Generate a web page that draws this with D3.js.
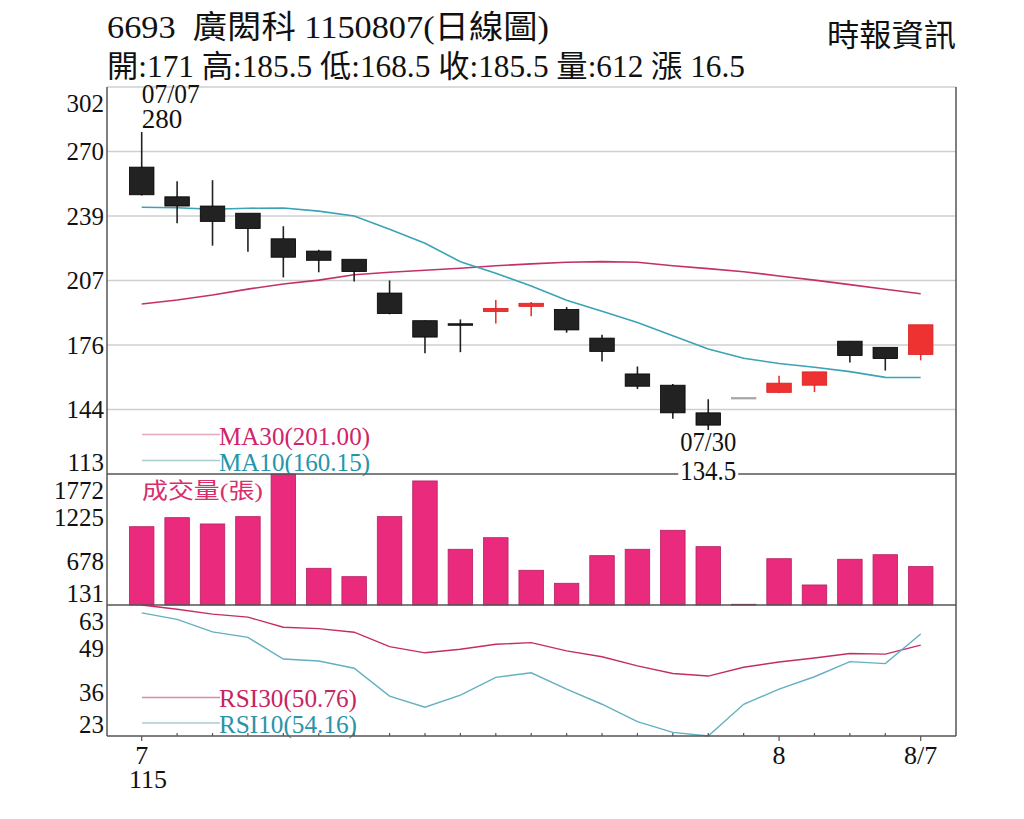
<!DOCTYPE html>
<html>
<head>
<meta charset="utf-8">
<script src="https://cdn.jsdelivr.net/npm/d3@7/dist/d3.min.js"></script>
<style>
  html, body { margin: 0; padding: 0; background: #fff; }
  svg { display: block; }
  text { font-family: "Liberation Serif", "Noto Sans CJK TC", serif; }
</style>
</head>
<body>
<div id="chart"></div>
<script>
// trading days shown (one session skipped in the source chart)
const dates = ['07/07', '07/08', '07/09', '07/10', '07/13', '07/14', '07/15', '07/16', '07/17', '07/20',
    '07/21', '07/22', '07/23', '07/24', '07/27', '07/28', '07/30', '07/31', '08/03', '08/04',
    '08/05', '08/06', '08/07'];

const openP = [262.5, 248, 243.5, 240, 227.5, 221.5, 217.5, 201, 187.5, 186, 192, 194.5, 193, 179, 161.5, 156, 142.5, 150, 152.5, 156, 177.5, 174.5, 171];
const highP = [280, 256, 256.5, 240, 234, 222.5, 217.5, 207.5, 188, 188.5, 198, 197, 194.5, 181, 165.5, 157, 149.5, 150, 161, 163, 178, 174.5, 185.5];
const lowP = [249, 235.5, 224.5, 221.5, 209, 211.5, 207, 191, 172, 172.5, 186.5, 190, 182, 168, 154.5, 140, 134.5, 150, 152.5, 153, 167.5, 163.5, 168.5];
const closeP = [249, 243.5, 236, 232.5, 218.5, 217, 211.5, 191, 179.5, 185.5, 193.5, 196, 183, 172.5, 155.5, 142.5, 136.5, 150, 157, 162.5, 170.5, 169, 185.5];

const volume = [1112, 1225, 1146, 1238, 1800, 591, 486, 1238, 1685, 829, 974, 566, 403, 749, 829, 1067, 862, 140, 711, 382, 704, 761, 612];

const ma30 = [196, 198, 200.4, 203.3, 205.8, 207.7, 210.3, 211.5, 212.5, 213.5, 214.7, 215.6, 216.4, 216.7, 216.4, 214.7, 213.3, 211.8, 209.7, 207.7, 205.5, 203.2, 201];
const ma10 = [243.3, 243, 242.3, 242.8, 242.9, 241.4, 239, 232.5, 225.7, 216.7, 211, 204.8, 197.8, 192.5, 187, 180.5, 174, 169.5, 167, 165.1, 163, 160.2, 160.15];

const rsi30 = [63, 61.7, 60.2, 59.3, 56.2, 55.8, 54.7, 50.3, 48.4, 49.5, 51, 51.5, 49, 47.2, 44.4, 42.1, 41.3, 44, 45.6, 46.8, 48.2, 48, 50.76];
const rsi10 = [60.6, 58.6, 54.8, 53.1, 46.5, 45.9, 43.7, 35.2, 31.8, 35.5, 40.9, 42.3, 37.3, 32.7, 27.4, 24.1, 22.8, 32.7, 37.3, 41.1, 45.7, 45.1, 54.16];

const priceTicks = [113, 144.5, 176, 207.5, 239, 270.5, 302];
const priceTickLabels = ['113', '144', '176', '207', '239', '270', '302'];
const volTicks = [131, 678, 1225, 1772];
const rsiTicks = [23, 36.33, 49.67, 63];
const rsiTickLabels = ['23', '36', '49', '63'];
const xLabels = [{ date: '07/07', text: '7' }, { date: '08/03', text: '8' }, { date: '08/07', text: '8/7' }];

const width = 1024, height = 819;
const left = 107, right = 956;
const panes = {
    price: { top: 87, bottom: 474 },
    vol: { top: 474, bottom: 605 },
    rsi: { top: 605, bottom: 736 }
};
const bodyW = 24.5;

const svg = d3.select('#chart').append('svg')
    .attr('width', width)
    .attr('height', height)
    .attr('viewBox', `0 0 ${width} ${height}`);

svg.append('rect').attr('width', width).attr('height', height).attr('fill', '#fff');

const x = d3.scalePoint()
    .domain(dates)
    .range([141.7, 920.7]);

const yPrice = d3.scaleLinear().domain([113, 302]).range([panes.price.bottom, panes.price.top]);
const yVol = d3.scaleLinear().domain([131, 1772]).range([panes.vol.bottom, panes.vol.top]).clamp(true);
const yRsi = d3.scaleLinear().domain([23, 63]).range([panes.rsi.bottom, panes.rsi.top]).clamp(true);

const candles = dates.map((d, i) => ({
    date: d, open: openP[i], high: highP[i], low: lowP[i], close: closeP[i], vol: volume[i]
}));

// Header
svg.append('text')
    .attr('x', 107).attr('y', 38)
    .attr('font-size', 32)
    .attr('textLength', 442).attr('lengthAdjust', 'spacingAndGlyphs')
    .attr('fill', '#111')
    .text('6693\u00a0\u00a0廣閎科 1150807(日線圖)');

svg.append('text')
    .attr('x', 107).attr('y', 77)
    .attr('font-size', 31)
    .attr('textLength', 638).attr('lengthAdjust', 'spacingAndGlyphs')
    .attr('fill', '#111')
    .text('開:171 高:185.5 低:168.5 收:185.5 量:612 漲 16.5');

svg.append('text')
    .attr('x', 827).attr('y', 46)
    .attr('font-size', 31)
    .attr('textLength', 129).attr('lengthAdjust', 'spacingAndGlyphs')
    .attr('fill', '#111')
    .text('時報資訊');

// Grid lines in the price pane
svg.append('g')
    .selectAll('line')
    .data(priceTicks.filter(v => v > 113))
    .join('line')
    .attr('x1', left).attr('x2', right)
    .attr('y1', d => yPrice(d)).attr('y2', d => yPrice(d))
    .attr('stroke', '#cfcfcf')
    .attr('stroke-width', 1.5);

// Y labels, clamped inside each pane
function yLabels(values, labels, scale, pane) {
    svg.append('g')
        .selectAll('text')
        .data(values)
        .join('text')
        .attr('x', 104)
        .attr('y', d => Math.max(pane.top + 16, Math.min(pane.bottom - 12, scale(d))))
        .attr('text-anchor', 'end')
        .attr('dominant-baseline', 'central')
        .attr('font-size', 25)
        .attr('fill', '#111')
        .text((d, i) => labels[i]);
}
yLabels(priceTicks, priceTickLabels, yPrice, panes.price);
yLabels(volTicks, volTicks.map(String), yVol, panes.vol);
yLabels(rsiTicks, rsiTickLabels, yRsi, panes.rsi);

// Moving averages
const line = (scale) => d3.line()
    .x((d, i) => x(dates[i]))
    .y(d => scale(d));

svg.append('path').datum(ma30)
    .attr('d', line(yPrice))
    .attr('fill', 'none').attr('stroke', '#c4306a').attr('stroke-width', 1.6);
svg.append('path').datum(ma10)
    .attr('d', line(yPrice))
    .attr('fill', 'none').attr('stroke', '#3aa3b8').attr('stroke-width', 1.6);

// Candles
function candleColor(d) {
    if (d.open === d.close && d.high === d.low) return '#a8a8a8';
    return d.close > d.open ? '#ee3232' : '#222';
}

const cg = svg.append('g')
    .selectAll('g')
    .data(candles)
    .join('g');

cg.append('line')
    .attr('x1', d => x(d.date)).attr('x2', d => x(d.date))
    .attr('y1', d => yPrice(d.high)).attr('y2', d => yPrice(d.low))
    .attr('stroke', candleColor)
    .attr('stroke-width', 1.6);

cg.append('rect')
    .attr('x', d => x(d.date) - bodyW / 2)
    .attr('width', bodyW)
    .attr('y', d => yPrice(Math.max(d.open, d.close)) - 0.75)
    .attr('height', d => Math.max(1.5, Math.abs(yPrice(d.open) - yPrice(d.close))))
    .attr('fill', candleColor)
    .attr('stroke', d => d.close > d.open ? '#d82020' : (d.open === d.close && d.high === d.low ? '#a8a8a8' : '#000'))
    .attr('stroke-width', 0.8);

// High / low annotations
const hiIdx = d3.maxIndex(highP);
const loIdx = d3.minIndex(lowP);

svg.append('text')
    .attr('x', x(dates[hiIdx])).attr('y', 103)
    .attr('font-size', 27).attr('fill', '#111')
    .attr('textLength', 58).attr('lengthAdjust', 'spacingAndGlyphs')
    .text(dates[hiIdx]);
svg.append('text')
    .attr('x', x(dates[hiIdx])).attr('y', 128)
    .attr('font-size', 27).attr('fill', '#111')
    .text(String(highP[hiIdx]));

// Legends in price pane
function legend(y, textColor, lineColor, label, len) {
    svg.append('line')
        .attr('x1', 142).attr('x2', 220)
        .attr('y1', y).attr('y2', y)
        .attr('stroke', lineColor).attr('stroke-width', 1.5);
    svg.append('text')
        .attr('x', 219).attr('y', y + 10)
        .attr('font-size', 25)
        .attr('fill', textColor)
        .attr('textLength', len).attr('lengthAdjust', 'spacingAndGlyphs')
        .text(label);
}
legend(434.5, '#d2226a', '#e6a8bc', `MA30(${ma30[ma30.length - 1].toFixed(2)})`, 151);
legend(460.5, '#2596aa', '#a8ccd4', `MA10(${ma10[ma10.length - 1].toFixed(2)})`, 151);

// Volume bars
svg.append('g')
    .selectAll('rect')
    .data(candles)
    .join('rect')
    .attr('x', d => x(d.date) - bodyW / 2)
    .attr('width', bodyW)
    .attr('y', d => yVol(d.vol))
    .attr('height', d => panes.vol.bottom - yVol(d.vol))
    .attr('fill', '#ea2a7d')
    .attr('stroke', '#b52060')
    .attr('stroke-width', 0.8);

svg.append('text')
    .attr('x', 142).attr('y', 498)
    .attr('font-size', 22)
    .attr('fill', '#d6306d')
    .attr('textLength', 121).attr('lengthAdjust', 'spacingAndGlyphs')
    .text('成交量(張)');

// RSI lines
svg.append('path').datum(rsi30)
    .attr('d', line(yRsi))
    .attr('fill', 'none').attr('stroke', '#c42d63').attr('stroke-width', 1.4);
svg.append('path').datum(rsi10)
    .attr('d', line(yRsi))
    .attr('fill', 'none').attr('stroke', '#62b0c0').attr('stroke-width', 1.4);

function rsiLegend(y, textColor, lineColor, label) {
    svg.append('line')
        .attr('x1', 142).attr('x2', 220)
        .attr('y1', y).attr('y2', y)
        .attr('stroke', lineColor).attr('stroke-width', 1.5);
    svg.append('text')
        .attr('x', 219).attr('y', y + 9.5)
        .attr('font-size', 25)
        .attr('fill', textColor)
        .attr('textLength', 138).attr('lengthAdjust', 'spacingAndGlyphs')
        .text(label);
}
rsiLegend(697.5, '#c8245f', '#d98aa4', `RSI30(${rsi30[rsi30.length - 1].toFixed(2)})`);
rsiLegend(723, '#2a93a8', '#a8ccd4', `RSI10(${rsi10[rsi10.length - 1].toFixed(2)})`);

// Pane separators and frame
const frame = svg.append('g').attr('stroke', '#555').attr('stroke-width', 1.5);
frame.append('line').attr('x1', left).attr('x2', right).attr('y1', panes.price.bottom).attr('y2', panes.price.bottom);
frame.append('line').attr('x1', left).attr('x2', right).attr('y1', panes.vol.bottom).attr('y2', panes.vol.bottom);
frame.append('line').attr('x1', left).attr('x2', right).attr('y1', panes.rsi.bottom).attr('y2', panes.rsi.bottom);
frame.append('line').attr('x1', left).attr('x2', left).attr('y1', panes.price.top).attr('y2', panes.rsi.bottom);
frame.append('line').attr('x1', right).attr('x2', right).attr('y1', panes.price.top).attr('y2', panes.rsi.bottom);

// Low annotation (drawn over the separator with a white backing)
const lowX = x(dates[loIdx]);
svg.append('rect')
    .attr('x', lowX - 30).attr('y', 460)
    .attr('width', 60).attr('height', 24)
    .attr('fill', '#fff');
svg.append('text')
    .attr('x', lowX).attr('y', 450.5)
    .attr('text-anchor', 'middle')
    .attr('font-size', 27).attr('fill', '#111')
    .attr('textLength', 56).attr('lengthAdjust', 'spacingAndGlyphs')
    .text(dates[loIdx]);
svg.append('text')
    .attr('x', lowX).attr('y', 480)
    .attr('text-anchor', 'middle')
    .attr('font-size', 27).attr('fill', '#111')
    .attr('textLength', 56).attr('lengthAdjust', 'spacingAndGlyphs')
    .text(String(lowP[loIdx]));

// X axis ticks and labels
const labelled = new Set(xLabels.map(d => d.date));
svg.append('g')
    .selectAll('line')
    .data(dates)
    .join('line')
    .attr('x1', d => x(d)).attr('x2', d => x(d))
    .attr('y1', d => labelled.has(d) ? panes.rsi.bottom + 5 : panes.rsi.bottom - 3)
    .attr('y2', panes.rsi.bottom)
    .attr('stroke', '#555').attr('stroke-width', 1.2);

svg.append('g')
    .selectAll('text')
    .data(xLabels)
    .join('text')
    .attr('x', d => x(d.date))
    .attr('y', 764)
    .attr('text-anchor', 'middle')
    .attr('font-size', 26)
    .attr('fill', '#111')
    .text(d => d.text);

svg.append('text')
    .attr('x', 129).attr('y', 788)
    .attr('font-size', 26)
    .attr('fill', '#111')
    .text('115');
</script>
</body>
</html>
